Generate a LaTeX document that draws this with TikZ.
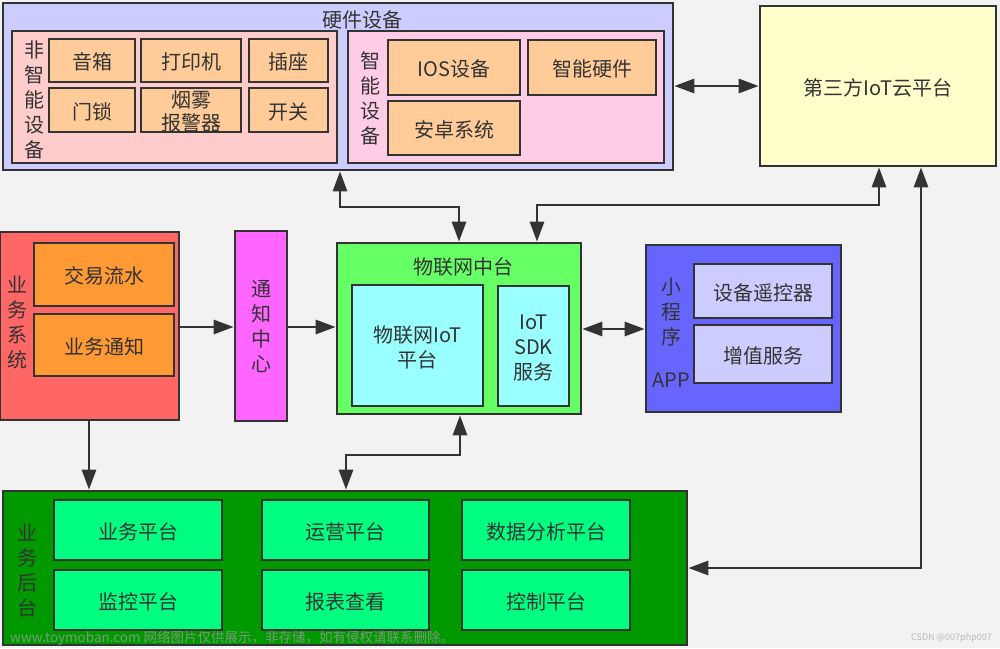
\documentclass[tikz,border=0pt]{standalone}
\usepackage{fontspec}
\setmainfont{Noto Sans CJK SC}
\usetikzlibrary{fit,arrows.meta}
\definecolor{bg}{HTML}{F2F2F2}
\definecolor{ink}{HTML}{333333}
\definecolor{hwc}{HTML}{CCCCFF}
\definecolor{nsc}{HTML}{FFCCCC}
\definecolor{smc}{HTML}{FFCCE6}
\definecolor{itc}{HTML}{FFCC99}
\definecolor{tpc}{HTML}{FFFFCC}
\definecolor{bsc}{HTML}{FF6666}
\definecolor{bic}{HTML}{FF9933}
\definecolor{ncc}{HTML}{FF66FF}
\definecolor{ioc}{HTML}{66FF66}
\definecolor{iic}{HTML}{99FFFF}
\definecolor{apc}{HTML}{6666FF}
\definecolor{aic}{HTML}{CCCCFF}
\definecolor{bkc}{HTML}{009900}
\definecolor{kic}{HTML}{00FF80}
\tikzset{
  box/.style={draw=ink, line width=2.6pt, inner sep=0pt},
  lbl/.style={inner sep=0pt, align=center, font=\fontsize{20}{25}\selectfont, text=ink},
  arr/.style={draw=ink, line width=2.8pt, -{Triangle[length=20pt,width=14pt]}},
  darr/.style={draw=ink, line width=2.8pt, {Triangle[length=20pt,width=14pt]}-{Triangle[length=20pt,width=14pt]}},
}
\begin{document}
\begin{tikzpicture}[x=1pt,y=-1pt, font=\fontsize{20}{25}\selectfont, text=ink]
\fill[bg] (0,0) rectangle (1000,648);
\useasboundingbox (0,0) rectangle (1000,648);

% hardware
\node[box, fill=hwc, fit={(3,3)(673,170)}] (hw) {};
\node[lbl] (hwt) at (362,20) {硬件设备};
\node[box, fill=nsc, fit={(12,31)(337,163)}] (ns) {};
\node[lbl] (nsl) at (34,100) {非\\智\\能\\设\\备};
\node[box, fill=itc, fit={(49,39)(135,82)}] (a1) {};
\node[lbl] at ([yshift=-1.5pt]a1.center) {音箱};
\node[box, fill=itc, fit={(141,39)(241,82)}] (a2) {};
\node[lbl] at ([yshift=-1.5pt]a2.center) {打印机};
\node[box, fill=itc, fit={(249,39)(328,82)}] (a3) {};
\node[lbl] at ([yshift=-1.5pt]a3.center) {插座};
\node[box, fill=itc, fit={(49,88)(135,132)}] (a4) {};
\node[lbl] at ([yshift=-1.5pt]a4.center) {门锁};
\node[box, fill=itc, fit={(141,88)(241,132)}] (a5) {};
\node[lbl, font=\fontsize{20}{23}\selectfont] at ([yshift=-1pt]a5.center) {烟雾\\报警器};
\node[box, fill=itc, fit={(249,88)(328,132)}] (a6) {};
\node[lbl] at ([yshift=-1.5pt]a6.center) {开关};
\node[box, fill=smc, fit={(348,31)(664,163)}] (sm) {};
\node[lbl] (sml) at (370,98) {智\\能\\设\\备};
\node[box, fill=itc, fit={(388,40)(520,95)}] (b1) {};
\node[lbl] at ([yshift=-1.5pt]b1.center) {IOS设备};
\node[box, fill=itc, fit={(528,40)(656,95)}] (b2) {};
\node[lbl] at ([yshift=-1.5pt]b2.center) {智能硬件};
\node[box, fill=itc, fit={(388,101)(520,155)}] (b3) {};
\node[lbl] at ([yshift=-1.5pt]b3.center) {安卓系统};

% third party
\node[box, fill=tpc, fit={(760,6)(996,166)}] (tp) {};
\node[lbl] at ([yshift=-1.5pt]tp.center) {第三方IoT云平台};

% business system
\node[box, fill=bsc, fit={(0,232)(179,420)}] (bs) {};
\node[lbl] (bsl) at (18,322) {业\\务\\系\\统};
\node[box, fill=bic, fit={(34,243)(174,306)}] (c1b) {};
\node[lbl] at ([yshift=-1.5pt]c1b.center) {交易流水};
\node[box, fill=bic, fit={(34,314)(174,376)}] (c2b) {};
\node[lbl] at ([yshift=-1.5pt]c2b.center) {业务通知};

% notification center
\node[box, fill=ncc, fit={(235,231)(287,421)}] (nc) {};
\node[lbl] (ncl) at (261,327) {通\\知\\中\\心};

% IoT middle
\node[box, fill=ioc, fit={(337,243)(581,414)}] (iot) {};
\node[lbl] (iott) at (463,267) {物联网中台};
\node[box, fill=iic, fit={(352,285)(483,406)}] (d1) {};
\node[lbl] at ([yshift=-1.5pt]d1.center) {物联网IoT\\平台};
\node[box, fill=iic, fit={(498,286)(569,406)}] (d2) {};
\node[lbl] at ([yshift=-1.5pt]d2.center) {IoT\\SDK\\服务};

% app
\node[box, fill=apc, fit={(646,245)(841,412)}] (app) {};
\node[lbl] (appl) at (671,312) {小\\程\\序};
\node[lbl] (appa) at (671,380) {APP};
\node[box, fill=aic, fit={(694,264)(832,318)}] (e1) {};
\node[lbl] at ([yshift=-1.5pt]e1.center) {设备遥控器};
\node[box, fill=aic, fit={(694,325)(832,383)}] (e2) {};
\node[lbl] at ([yshift=-1.5pt]e2.center) {增值服务};

% back office
\node[box, fill=bkc, fit={(3,491)(687,645)}] (bk) {};
\node[lbl] (bkl) at (27,570) {业\\务\\后\\台};
\node[box, fill=kic, fit={(54,500)(222,560)}] (f1) {};
\node[lbl] at ([yshift=-1.5pt]f1.center) {业务平台};
\node[box, fill=kic, fit={(54,570)(222,630)}] (f2) {};
\node[lbl] at ([yshift=-1.5pt]f2.center) {监控平台};
\node[box, fill=kic, fit={(262,500)(429,560)}] (f3) {};
\node[lbl] at ([yshift=-1.5pt]f3.center) {运营平台};
\node[box, fill=kic, fit={(262,570)(429,630)}] (f4) {};
\node[lbl] at ([yshift=-1.5pt]f4.center) {报表查看};
\node[box, fill=kic, fit={(462,500)(630,560)}] (f5) {};
\node[lbl] at ([yshift=-1.5pt]f5.center) {数据分析平台};
\node[box, fill=kic, fit={(462,570)(630,630)}] (f6) {};
\node[lbl] at ([yshift=-1.5pt]f6.center) {控制平台};

% watermark texts
\node[anchor=west, inner sep=0pt, text=gray!80, opacity=0.8, font=\fontsize{13.5}{15}\selectfont] (wm) at (10,638) {www.toymoban.com 网络图片仅供展示，非存储，如有侵权请联系删除。};
\node[anchor=east, inner sep=0pt, text=gray!55, font=\fontsize{9}{10}\selectfont] (cs) at (992,638) {CSDN @007php007};

% connector coordinates
\coordinate (k0) at (0,86);
\coordinate (k1) at (340,207);
\coordinate (k2) at (537,205);
\coordinate (k2b) at (879,205);
\coordinate (k3) at (921,568);
\coordinate (k4) at (89,455);
\coordinate (k5) at (460,455);
\coordinate (k6) at (346,455);
\coordinate (k7) at (0,327);
\coordinate (k8) at (0,329);

% connectors
\draw[darr] (hw.east |- k0) -- (tp.west |- k0);
\draw[darr] (hw.south -| k1) -- (k1) -| (iot.north);
\draw[darr] (iot.north -| k2) -- (k2) -- (k2b) -- (tp.south -| k2b);
\draw[darr] (tp.south -| k3) -- (k3) -- (bk.east |- k3);
\draw[arr] (bs.south -| k4) -- (bk.north -| k4);
\draw[darr] (iot.south -| k5) -- (k5) -- (k6) -- (bk.north -| k6);
\draw[arr] (bs.east |- k7) -- (nc.west |- k7);
\draw[arr] (nc.east |- k7) -- (iot.west |- k7);
\draw[darr] (iot.east |- k8) -- (app.west |- k8);
\end{tikzpicture}
\end{document}
